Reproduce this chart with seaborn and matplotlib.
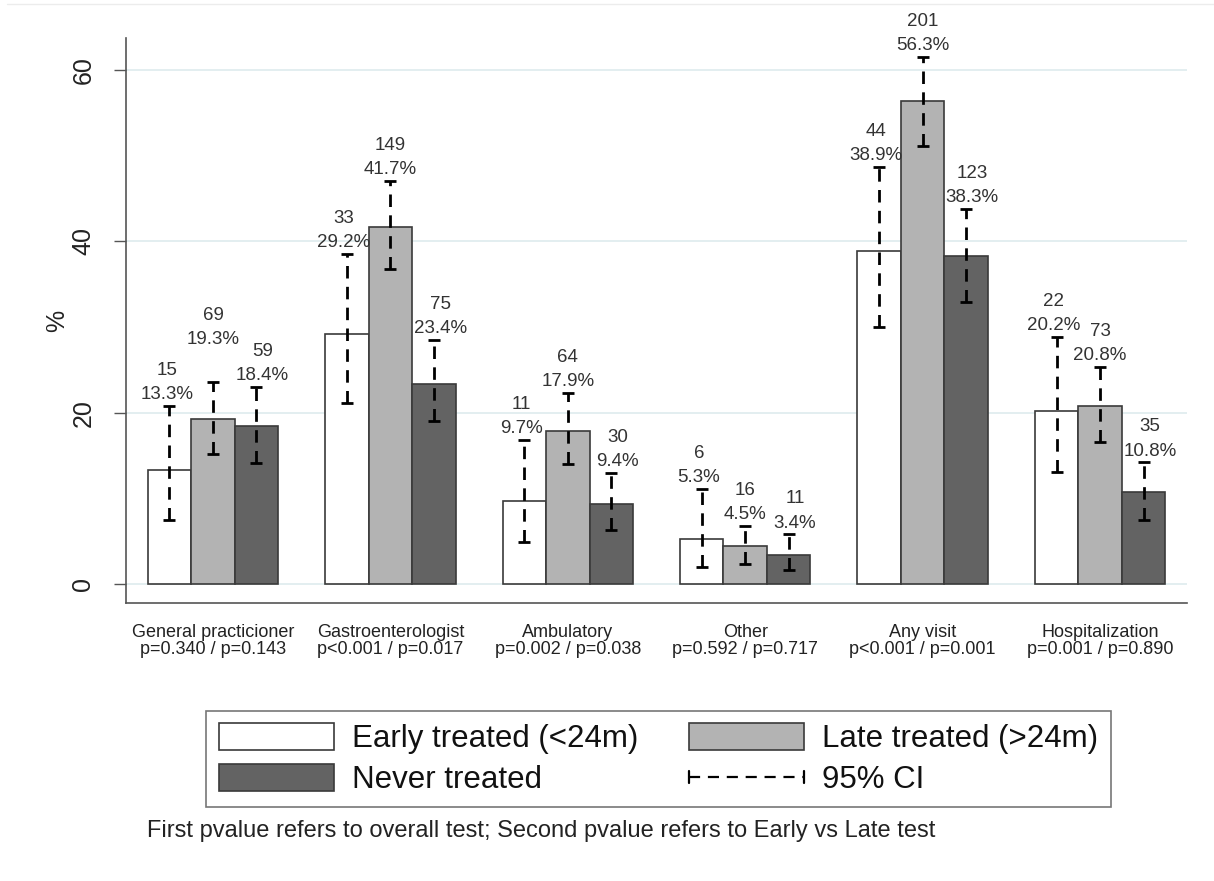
import numpy as np
import pandas as pd
import matplotlib
matplotlib.use("Agg")
import matplotlib.pyplot as plt
import seaborn as sns
from matplotlib.legend_handler import HandlerBase
from matplotlib.lines import Line2D
from matplotlib.patches import Patch

# ---- data -------------------------------------------------------------
categories = ["General practicioner", "Gastroenterologist", "Ambulatory",
              "Other", "Any visit", "Hospitalization"]
pvalues = ["p=0.340 / p=0.143", "p<0.001 / p=0.017", "p=0.002 / p=0.038",
           "p=0.592 / p=0.717", "p<0.001 / p=0.001", "p=0.001 / p=0.890"]
groups = ["Early treated (<24m)", "Late treated (>24m)", "Never treated"]

early_n = [15, 33, 11, 6, 44, 22]
early_pct = [13.3, 29.2, 9.7, 5.3, 38.9, 20.2]
early_lo = [7.5, 21.1, 4.9, 2.0, 30.0, 13.1]
early_hi = [20.8, 38.5, 16.8, 11.1, 48.7, 28.8]

late_n = [69, 149, 64, 16, 201, 73]
late_pct = [19.3, 41.7, 17.9, 4.5, 56.3, 20.8]
late_lo = [15.2, 36.7, 14.0, 2.4, 51.1, 16.6]
late_hi = [23.6, 47.0, 22.3, 6.8, 61.5, 25.3]

never_n = [59, 75, 30, 11, 123, 35]
never_pct = [18.4, 23.4, 9.4, 3.4, 38.3, 10.8]
never_lo = [14.1, 19.0, 6.3, 1.6, 32.9, 7.5]
never_hi = [23.0, 28.5, 13.0, 5.8, 43.8, 14.2]

counts = [early_n, late_n, never_n]
pcts = [early_pct, late_pct, never_pct]
ci_lo = [early_lo, late_lo, never_lo]
ci_hi = [early_hi, late_hi, never_hi]

colors = ["#ffffff", "#b3b3b3", "#636363"]

xlabels = [f"{c}\n{p}" for c, p in zip(categories, pvalues)]
df = pd.DataFrame({
    "category": np.repeat([xlabels], 3, axis=0).ravel(),
    "group": np.repeat(groups, len(categories)),
    "pct": np.concatenate(pcts),
})

# ---- figure -----------------------------------------------------------
sns.set_style("white")
plt.rcParams["font.family"] = ["Liberation Sans", "DejaVu Sans"]

fig = plt.figure(figsize=(12.14, 8.81), dpi=100)
ax = fig.add_axes([126 / 1214, 1 - 603 / 881, (1187 - 126) / 1214, (603 - 38) / 881])

sns.barplot(data=df, x="category", y="pct", hue="group", hue_order=groups,
            order=xlabels, palette=colors, width=0.735, errorbar=None,
            edgecolor="#3a3a3a", linewidth=1.2, legend=False, ax=ax,
            zorder=2)

bar_containers = list(ax.containers)

# label nudges (points) per group, plus a lift for one crowded label
label_dx = [-2.0, 0.0, 4.5]
label_lift = {(1, 0): 22.0}

# confidence intervals and value labels on each bar
for gi, cont in enumerate(bar_containers):
    for ci, bar in enumerate(cont.patches):
        xc = bar.get_x() + bar.get_width() / 2
        lo, hi = ci_lo[gi][ci], ci_hi[gi][ci]
        val = pcts[gi][ci]
        eb = ax.errorbar([xc], [val], yerr=[[val - lo], [hi - val]],
                         fmt="none", ecolor="black", elinewidth=2.0,
                         capsize=4, capthick=2.0, zorder=4)
        eb[2][0].set_linestyle((0, (4.5, 3.0)))
        ax.annotate(f"{counts[gi][ci]}\n{val:.1f}%", xy=(xc, hi),
                    xytext=(label_dx[gi], 2 + label_lift.get((gi, ci), 0.0)),
                    textcoords="offset points",
                    ha="center", va="bottom", fontsize=13.5,
                    color="#333333", linespacing=1.55, annotation_clip=False)

# axes styling
ax.set_xlim(-0.49, 5.49)
ax.set_ylim(-2.2, 63.7)
ax.set_yticks([0, 20, 40, 60])
ax.yaxis.grid(True, color="#e3eef0", linewidth=1.4, zorder=0)
ax.set_axisbelow(True)
for side in ["top", "right"]:
    ax.spines[side].set_visible(False)
for side in ["left", "bottom"]:
    ax.spines[side].set_color("#555555")
    ax.spines[side].set_linewidth(1.2)
ax.tick_params(axis="y", direction="out", length=9, width=1.0,
               color="#555555", pad=13, labelsize=18, labelrotation=90,
               labelcolor="#222222", left=True)
for lab in ax.get_yticklabels():
    lab.set_va("center")
ax.tick_params(axis="x", length=0, pad=15, labelsize=13, labelcolor="#222222")
for lab in ax.get_xticklabels():
    lab.set_linespacing(1.05)
ax.set_xlabel("")
ax.set_ylabel("%", fontsize=18, color="#222222", labelpad=2)


# legend with a horizontal dashed CI symbol
class CIHandler(HandlerBase):
    def create_artists(self, legend, orig_handle, xdescent, ydescent,
                       width, height, fontsize, trans):
        y = height / 2 - ydescent
        x0, x1 = -xdescent, width - xdescent
        line = Line2D([x0, x1], [y, y], color="black", lw=1.6,
                      linestyle=(0, (5.0, 3.5)), transform=trans)
        cap_h = height * 0.22
        c0 = Line2D([x0, x0], [y - cap_h, y + cap_h], color="black", lw=1.6,
                    transform=trans)
        c1 = Line2D([x1, x1], [y - cap_h, y + cap_h], color="black", lw=1.6,
                    transform=trans)
        return [line, c0, c1]


ci_proxy = Line2D([], [], color="black")
handles = [Patch(facecolor=colors[0], edgecolor="#3a3a3a", linewidth=1.2),
           Patch(facecolor=colors[2], edgecolor="#3a3a3a", linewidth=1.2),
           Patch(facecolor=colors[1], edgecolor="#3a3a3a", linewidth=1.2),
           ci_proxy]
labels = [groups[0], groups[2], groups[1], "95% CI"]
leg = fig.legend(handles, labels, ncol=2, loc="center",
                 bbox_to_anchor=((205 + 1112) / 2 / 1214, 1 - 759 / 881),
                 fontsize=22.5, handlelength=3.7, handleheight=0.95,
                 handletextpad=0.58, columnspacing=1.6, labelspacing=0.3,
                 borderpad=0.4, frameon=True, fancybox=False,
                 handler_map={ci_proxy: CIHandler()})
leg.get_frame().set_edgecolor("#555555")
leg.get_frame().set_linewidth(1.2)
for t in leg.get_texts():
    t.set_color("#111111")

fig.text(147 / 1214, 1 - 831 / 881,
         "First pvalue refers to overall test; Second pvalue refers to Early vs Late test",
         fontsize=17, color="#222222", ha="left", va="center")

# thin frame line along the top edge
fig.add_artist(Line2D([7 / 1214, 1.0], [1 - 4 / 881, 1 - 4 / 881],
                      transform=fig.transFigure, color="#ececec", lw=1.0))

fig.savefig("out.png", dpi=100, facecolor="white")
